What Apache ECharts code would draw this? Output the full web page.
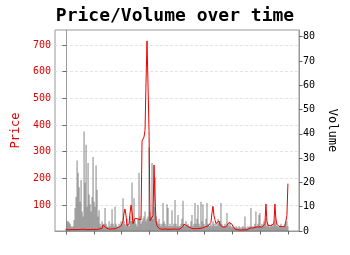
<!DOCTYPE html>
<html>
<head>
<meta charset="utf-8">
<script src="https://cdn.jsdelivr.net/npm/echarts@6/dist/echarts.min.js"></script>
<style>html,body{margin:0;padding:0;background:#fff}#c{width:350px;height:255px}</style>
</head>
<body>
<div id="c"></div>
<script>
// sample index 0..222 (one sample per time step)
const priceValues = [
  8,9,8,7,8,9,8,10,9,8,8,7,8,9,8,9,10,8,9,8,7,8,9,8,8,9,10,9,8,9,8,8,9,10,9,
  10,12,26,30,22,14,12,11,10,10,11,10,11,12,11,12,13,15,18,20,22,25,40,70,85,60,22,24,30,70,100,75,30,38,50,
  52,50,48,45,42,44,340,345,355,380,560,715,720,380,40,35,33,60,250,120,40,22,16,12,10,10,9,10,9,10,9,10,9,9,10,
  9,10,9,10,9,10,9,10,11,10,12,14,20,28,33,32,22,17,16,15,14,12,11,11,12,11,12,13,12,13,14,13,15,16,18,
  20,22,21,24,26,35,70,95,60,45,30,25,35,40,25,20,18,17,16,17,18,20,25,35,41,38,28,20,14,10,8,7,7,6,7,
  6,7,6,7,7,8,7,8,10,13,14,15,14,16,15,17,16,15,18,20,18,17,19,22,30,104,40,24,22,21,22,23,22,30,104,
  45,28,22,20,19,20,19,18,19,20,22,60,180
];
const volumeValues = [
  1,4,4,3.5,3,2,1.5,2,4.5,9.5,14,29,24,18,12,21,8,6,41,20,35.5,10,28,15,11,8,14,30.5,12,10,27,17,6,8.5,3,
  2,4,2,3,9.5,3,2,1.5,4,2,3,9,3,2,10,3,2,1.5,3,2,4,3,13.5,4,3,2,5,3,2,6,4,20,5,13.5,4,
  3,2,5,24,6,3,4,5,6,8,4,5,6,34.5,8,6,28,5,10,22,6,4,3,5,3,2,3,11.5,4,3,2,11,9.5,2,3,
  2,8.5,2,3,12.8,3,2,6.6,2,2,3,5,12.5,3,2,4,2,3,2,2,4,6.6,2,3,11.5,3,5,10.7,3,2,12,4,11,3,2,
  5,11.5,3,2,2,3,2,4,3,2,3,2,5,3,4,11.5,3,2,2,3,2,7.4,3,2,3.3,2,1.5,2,1.5,1,2,1.5,1,2,1.5,
  1,1.5,2,1.5,6,1.5,1,2,1.5,2,9.5,2,1.5,2,3,8,2,3,6.6,7.4,2,3,2,4,3,5,2,3,2,1.5,2,3,2,4,3,
  5,2,2,1.5,2,3,2,1.5,2,3,2,4,2
];
const xTicks = [0, 27.75, 55.5, 83.25, 111, 138.75, 166.5, 194.25, 222];
const priceTicks = [100, 200, 300, 400, 500, 600, 700];
const volumeTicks = [0, 10, 20, 30, 40, 50, 60, 70, 80];

const priceData = priceValues.map((v, i) => [i, v]);
const volumeData = volumeValues.map((v, i) => [i, v]);

const mono = 'DejaVu Sans Mono';
const chart = echarts.init(document.getElementById('c'), null, {renderer: 'canvas'});
chart.setOption({
  animation: false,
  title: {
    text: 'Price/Volume over time',
    left: 'center',
    top: 2,
    textStyle: {fontFamily: mono, fontWeight: 'bold', fontSize: 18, color: '#000'}
  },
  grid: {left: 55, right: 51, top: 30, bottom: 24, show: true, borderColor: '#999', borderWidth: 1, backgroundColor: 'transparent'},
  xAxis: {
    type: 'value',
    min: -11.1,
    max: 233.1,
    axisLine: {show: true, lineStyle: {color: '#999'}},
    axisTick: {show: true, customValues: xTicks, length: 3.5, lineStyle: {color: '#666'}},
    axisLabel: {show: false},
    splitLine: {show: false}
  },
  yAxis: [
    {
      type: 'value',
      min: 2.5,
      max: 756,
      position: 'left',
      name: 'Price',
      nameLocation: 'middle',
      nameGap: 31,
      nameTextStyle: {color: '#dd0000', fontFamily: mono, fontSize: 12},
      axisLine: {show: true, lineStyle: {color: '#999'}},
      axisTick: {show: true, customValues: priceTicks, length: 3.5, lineStyle: {color: '#666'}},
      axisLabel: {customValues: priceTicks, color: '#dd0000', fontFamily: mono, fontSize: 10, margin: 4},
      splitLine: {show: true, lineStyle: {color: '#dddddd', type: [3, 2], width: 0.8}}
    },
    {
      type: 'value',
      min: 0,
      max: 82.76,
      position: 'right',
      name: 'Volume',
      nameLocation: 'middle',
      nameRotate: -90,
      nameGap: 27,
      nameTextStyle: {color: '#000', fontFamily: mono, fontSize: 12},
      axisLine: {show: true, lineStyle: {color: '#999'}},
      axisTick: {show: true, customValues: volumeTicks, length: 3.5, lineStyle: {color: '#666'}},
      axisLabel: {customValues: volumeTicks, color: '#000', fontFamily: mono, fontSize: 10, margin: 4},
      splitLine: {show: false}
    }
  ],
  series: [
    {
      type: 'bar',
      yAxisIndex: 1,
      data: volumeData,
      barWidth: 1.2,
      itemStyle: {color: 'rgba(110,110,110,0.7)'},
      z: 1
    },
    {
      type: 'line',
      yAxisIndex: 0,
      data: priceData,
      showSymbol: false,
      lineStyle: {color: '#ee0000', width: 1},
      z: 2
    }
  ]
});
</script>
</body>
</html>
